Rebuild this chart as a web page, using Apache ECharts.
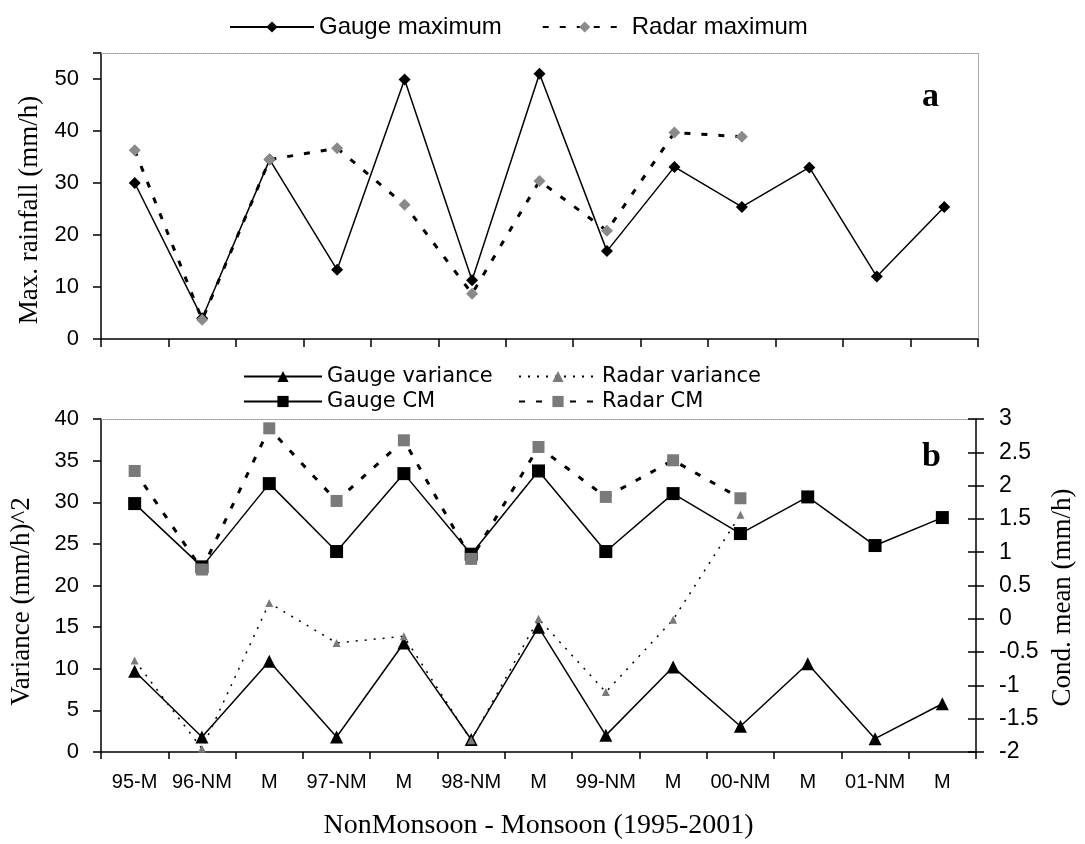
<!DOCTYPE html>
<html>
<head>
<meta charset="utf-8">
<script src="https://cdn.jsdelivr.net/npm/echarts@6/dist/echarts.min.js"></script>
<style>
html, body { margin: 0; padding: 0; background: #fff; }
#chart { width: 1085px; height: 844px; }
</style>
</head>
<body>
<div id="chart"></div>
<script>
// season labels, shared by both panels
var categories = ['95-M', '96-NM', 'M', '97-NM', 'M', '98-NM', 'M', '99-NM', 'M', '00-NM', 'M', '01-NM', 'M'];

// panel a: max rainfall (mm/h)
var gaugeMax = [30, 4, 34.5, 13.3, 49.9, 11.3, 51, 16.9, 33.1, 25.4, 33, 12, 25.4];
var radarMax = [36.3, 3.7, 34.5, 36.7, 25.8, 8.7, 30.4, 20.8, 39.7, 38.9, null, null, null];

// panel b: variance (mm/h)^2, left axis
var gaugeVar = [9.7, 1.8, 10.9, 1.8, 13.1, 1.5, 15.0, 2.0, 10.2, 3.1, 10.6, 1.6, 5.8];
var radarVar = [11.0, 0.4, 17.9, 13.1, 13.9, 1.4, 16.0, 7.2, 15.9, 28.5, null, null, null];

// panel b: conditional mean (mm/h), right axis
var gaugeCM = [1.73, 0.78, 2.03, 1.01, 2.18, 0.97, 2.22, 1.01, 1.88, 1.28, 1.83, 1.10, 1.52];
var radarCM = [2.22, 0.74, 2.86, 1.77, 2.68, 0.90, 2.58, 1.83, 2.38, 1.81, null, null, null];

var sans = 'Liberation Sans';
var serif = 'Liberation Serif';

var chart = echarts.init(document.getElementById('chart'));

var solidAxis = { show: true, onZero: false, lineStyle: { color: '#000', width: 1.5 } };
var dotAxis = { show: true, onZero: false, lineStyle: { color: '#999', width: 1, type: 'dotted' } };

var option = {
  animation: false,
  backgroundColor: '#fff',
  grid: [
    { left: 101, right: 107, top: 53, bottom: 505 },
    { left: 101, right: 109, top: 419, bottom: 92 },
    { left: 101, right: 109, top: 419, bottom: 92 }
  ],
  legend: [
    {
      data: ['Gauge maximum', 'Radar maximum'],
      left: 224, top: 10,
      itemWidth: 84, itemHeight: 14, itemGap: 40,
      textStyle: { fontFamily: sans, fontSize: 24, color: '#000' }
    },
    {
      data: ['Gauge variance', 'Gauge CM'],
      orient: 'vertical',
      left: 238, top: 361,
      itemWidth: 78, itemHeight: 14, itemGap: 4,
      textStyle: { fontFamily: 'DejaVu Sans', fontSize: 21, color: '#000' }
    },
    {
      data: ['Radar variance', 'Radar CM'],
      orient: 'vertical',
      left: 513, top: 361,
      itemWidth: 78, itemHeight: 14, itemGap: 4,
      textStyle: { fontFamily: 'DejaVu Sans', fontSize: 21, color: '#000' }
    }
  ],
  xAxis: [
    {
      gridIndex: 0, type: 'category', data: categories,
      axisLine: solidAxis,
      axisTick: { show: true, length: 8, lineStyle: { color: '#000', width: 1.5 } },
      axisLabel: { show: false }
    },
    {
      gridIndex: 0, type: 'category', data: categories, position: 'top',
      axisLine: dotAxis, axisTick: { show: false }, axisLabel: { show: false }
    },
    {
      gridIndex: 1, type: 'category', data: categories,
      axisLine: solidAxis,
      axisTick: { show: true, length: 7, lineStyle: { color: '#000', width: 1.5 } },
      axisLabel: { fontFamily: sans, fontSize: 20, color: '#000', margin: 20, interval: 0 },
      name: 'NonMonsoon - Monsoon (1995-2001)',
      nameLocation: 'middle', nameGap: 60,
      nameTextStyle: { fontFamily: serif, fontSize: 28, color: '#000' }
    },
    {
      gridIndex: 1, type: 'category', data: categories, position: 'top',
      axisLine: dotAxis, axisTick: { show: false }, axisLabel: { show: false }
    },
    { gridIndex: 2, type: 'category', data: categories, show: false }
  ],
  yAxis: [
    {
      gridIndex: 0, type: 'value', min: 0, max: 55, interval: 10,
      axisLine: solidAxis,
      axisTick: { show: true, length: 8, lineStyle: { color: '#000', width: 1.5 } },
      splitLine: { show: false },
      axisLabel: {
        fontFamily: sans, fontSize: 22, color: '#000', margin: 22,
        formatter: function (v) { return v > 50 ? '' : v; }
      },
      name: 'Max. rainfall (mm/h)',
      nameLocation: 'middle', nameGap: 55,
      nameTextStyle: { fontFamily: serif, fontSize: 27, color: '#000', padding: [0, 28, 0, 0] }
    },
    {
      gridIndex: 0, type: 'value', min: 0, max: 1, position: 'right',
      axisLine: dotAxis, axisTick: { show: false }, axisLabel: { show: false },
      splitLine: { show: false }
    },
    {
      gridIndex: 1, type: 'value', min: 0, max: 40, interval: 5,
      axisLine: solidAxis,
      axisTick: { show: true, length: 8, lineStyle: { color: '#000', width: 1.5 } },
      splitLine: { show: false },
      axisLabel: { fontFamily: sans, fontSize: 22, color: '#000', margin: 22 },
      name: 'Variance (mm/h)^2',
      nameLocation: 'middle', nameGap: 66,
      nameTextStyle: { fontFamily: serif, fontSize: 27, color: '#000', padding: [0, 32, 0, 0] }
    },
    {
      gridIndex: 1, type: 'value', min: -2, max: 3, interval: 0.5, position: 'right',
      axisLine: solidAxis,
      axisTick: { show: true, length: 8, lineStyle: { color: '#000', width: 1.5 } },
      splitLine: { show: false },
      axisLabel: { fontFamily: sans, fontSize: 23, color: '#000', margin: 23 },
      name: 'Cond. mean (mm/h)',
      nameLocation: 'middle', nameGap: 72,
      nameTextStyle: { fontFamily: serif, fontSize: 27, color: '#000', padding: [0, 24, 0, 0] }
    },
    {
      // inner half of the crossing ticks on the right axis
      gridIndex: 2, type: 'value', min: -2, max: 3, interval: 0.5, position: 'right',
      axisLine: { show: false, onZero: false },
      axisTick: { show: true, inside: true, length: 8, lineStyle: { color: '#000', width: 1.5 } },
      axisLabel: { show: false },
      splitLine: { show: false }
    }
  ],
  series: [
    {
      name: 'Gauge maximum', type: 'line', xAxisIndex: 0, yAxisIndex: 0,
      data: gaugeMax, symbol: 'diamond', symbolSize: 12,
      itemStyle: { color: '#000' },
      lineStyle: { color: '#000', width: 1.5 }
    },
    {
      name: 'Radar maximum', type: 'line', xAxisIndex: 0, yAxisIndex: 0,
      data: radarMax, symbol: 'diamond', symbolSize: 12,
      itemStyle: { color: '#8a8a8a' },
      lineStyle: { color: '#000', width: 3, type: [6, 11] }
    },
    {
      name: 'Gauge variance', type: 'line', xAxisIndex: 2, yAxisIndex: 2,
      data: gaugeVar, symbol: 'triangle', symbolSize: 13,
      itemStyle: { color: '#000' },
      lineStyle: { color: '#000', width: 1.5 }
    },
    {
      name: 'Radar variance', type: 'line', xAxisIndex: 2, yAxisIndex: 2,
      data: radarVar, symbol: 'triangle', symbolSize: 8,
      itemStyle: { color: '#7a7a7a' },
      lineStyle: { color: '#000', width: 1.5, type: [2, 7] }
    },
    {
      name: 'Gauge CM', type: 'line', xAxisIndex: 2, yAxisIndex: 3,
      data: gaugeCM, symbol: 'rect', symbolSize: 13,
      itemStyle: { color: '#000' },
      lineStyle: { color: '#000', width: 1.5 }
    },
    {
      name: 'Radar CM', type: 'line', xAxisIndex: 2, yAxisIndex: 3,
      data: radarCM, symbol: 'rect', symbolSize: 12,
      itemStyle: { color: '#7a7a7a' },
      lineStyle: { color: '#000', width: 3, type: [6, 11] }
    }
  ],
  graphic: [
    {
      type: 'text', left: 922, top: 80,
      style: { text: 'a', font: 'bold 34px "Liberation Serif"', fill: '#000' }
    },
    {
      type: 'text', left: 922, top: 440,
      style: { text: 'b', font: 'bold 34px "Liberation Serif"', fill: '#000' }
    }
  ]
};

chart.setOption(option);
</script>
</body>
</html>
